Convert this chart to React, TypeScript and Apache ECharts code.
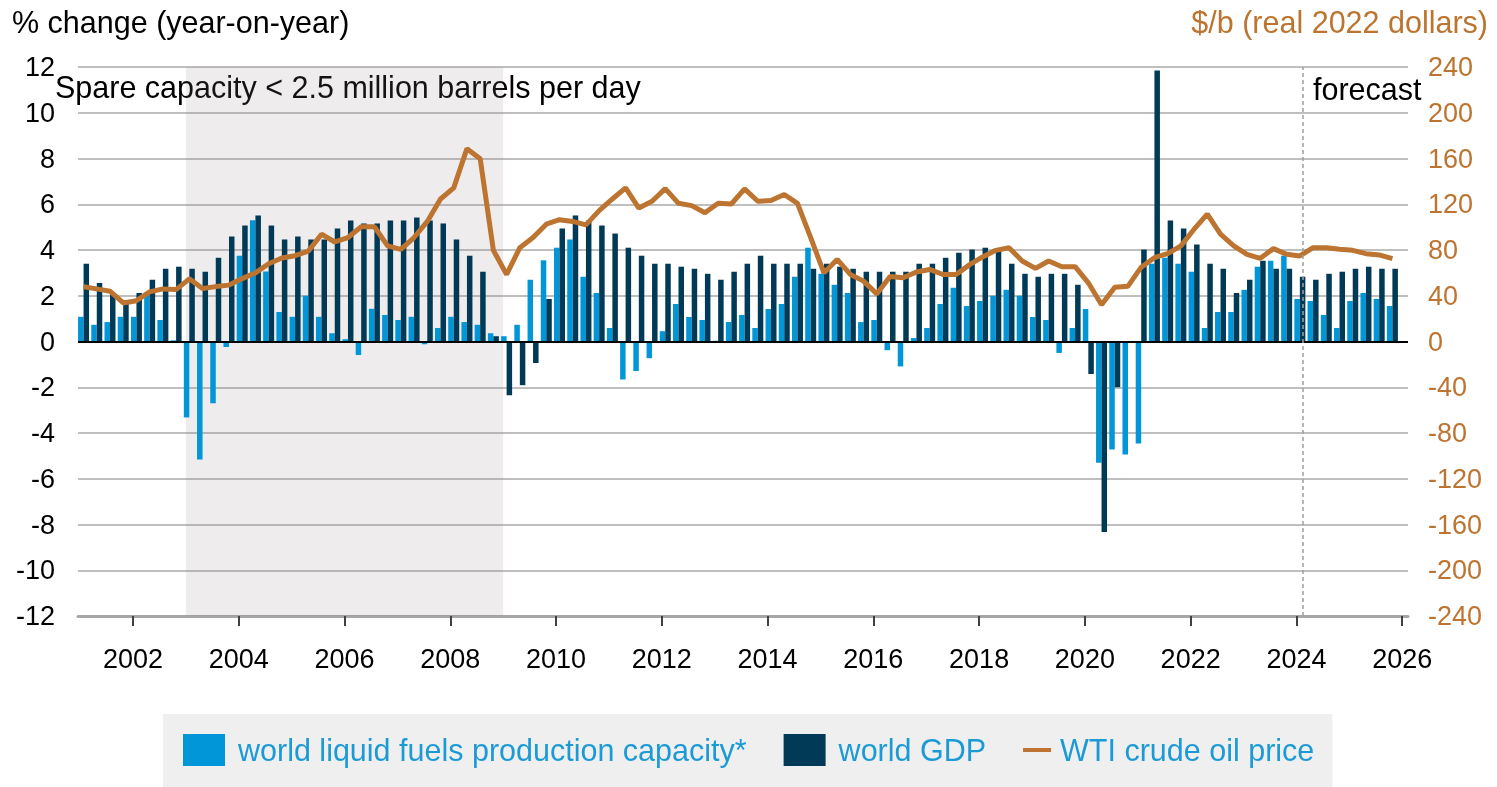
import React, { useEffect, useRef } from "react";
import * as echarts from "echarts";

// Quarterly data 2001Q1 .. 2025Q4
const startYear = 2001;
const capacity = [
  1.08, 0.73, 0.85, 1.08, 1.08, 2.02, 0.94, 0.05, -3.32, -5.16, -2.7, -0.24,
  3.75, 5.3, 3.06, 1.29, 1.08, 2.0, 1.08, 0.36, 0.1, -0.59, 1.43, 1.16,
  0.94, 1.08, -0.12, 0.59, 1.08, 0.85, 0.73, 0.36, 0.23, 0.73, 2.7, 3.55,
  4.1, 4.46, 2.83, 2.12, 0.59, -1.66, -1.29, -0.73, 0.45, 1.64, 1.07, 0.94,
  0.03, 0.85, 1.16, 0.59, 1.42, 1.64, 2.83, 4.1, 2.96, 2.48, 2.12, 0.85,
  0.94, -0.38, -1.09, 0.15, 0.59, 1.64, 2.35, 1.55, 1.77, 2.0, 2.26, 2.0,
  1.07, 0.94, -0.5, 0.59, 1.42, -5.3, -4.72, -4.94, -4.46, 3.4, 3.66, 3.4,
  3.05, 0.59, 1.29, 1.29, 2.26, 3.27, 3.53, 3.75, 1.86, 1.77, 1.16, 0.59,
  1.77, 2.12, 1.86, 1.55,
];
const gdp = [
  3.4, 2.56, 2.07, 1.8, 2.12, 2.7, 3.18, 3.27, 3.18, 3.05, 3.66, 4.59,
  5.07, 5.51, 5.07, 4.46, 4.59, 4.46, 4.46, 4.94, 5.29, 5.16, 5.16, 5.29,
  5.29, 5.42, 5.29, 5.16, 4.46, 3.75, 3.05, 0.23, -2.35, -1.91, -0.94, 1.86,
  4.94, 5.51, 5.29, 5.07, 4.72, 4.1, 3.75, 3.4, 3.4, 3.27, 3.18, 2.96,
  2.7, 3.05, 3.4, 3.75, 3.4, 3.4, 3.4, 3.18, 3.4, 3.27, 3.18, 3.05,
  3.05, 3.05, 3.05, 3.4, 3.4, 3.66, 3.88, 4.02, 4.1, 4.02, 3.4, 2.96,
  2.83, 2.96, 2.96, 2.48, -1.42, -8.33, -2.0, 0, 4.02, 11.85, 5.29, 4.94,
  4.24, 3.4, 3.18, 2.12, 2.7, 3.53, 3.18, 3.18, 2.83, 2.7, 2.96, 3.05,
  3.18, 3.27, 3.18, 3.18,
];
const wti = [
  47.8, 46, 44, 33.7, 35.7, 43.4, 46, 45.4, 54.8, 46.3, 48, 49.3,
  55, 60, 68, 73, 75, 79, 93.8, 87, 90.9, 100.3, 100.3, 83.6,
  80.6, 90.9, 105, 124.6, 134.3, 168.6, 159.8, 79.7, 58.6, 82, 90.9, 102.6,
  106.5, 105, 102, 114.4, 124.6, 134.3, 116.7, 122.6, 133.7, 120.8, 118.8, 112.6,
  120.8, 120.2, 133.4, 122.6, 123.2, 128.5, 120.8, 90.9, 60, 71.8, 58.6, 52.8,
  41.6, 56.9, 55.7, 60.7, 63, 58.6, 58.6, 67, 73.9, 79.7, 82, 70.4,
  63.9, 70.4, 65.4, 65.4, 51.3, 32.2, 47.5, 48.4, 65, 73.3, 76.8, 83.6,
  98.2, 111.4, 93.8, 83.6, 76.2, 72.7, 81.2, 76.2, 74.8, 82, 82, 80.6,
  79.7, 76.8, 75.7, 72.4,
];
const tickYears = [2002, 2004, 2006, 2008, 2010, 2012, 2014, 2016, 2018, 2020, 2022, 2024, 2026];
const shadeFrom = 2003.0;
const shadeTo = 2009.0;
const forecastAt = 2024.12;

const FONT = "'Liberation Sans', Arial, sans-serif";
const LIGHT = "#0096D7";
const DARK = "#003A56";
const ORANGE = "#BC7430";
const LEGEND_TEXT = "#1C9AD6";

export default function App() {
  const ref = useRef<HTMLDivElement>(null);
  useEffect(() => {
    if (!ref.current) return;
    const chart = echarts.init(ref.current, undefined, { renderer: "svg" });
    const xs = capacity.map((_, i) => startYear + i / 4 + 0.065);
    const option: any = {
      animation: false,
      textStyle: { fontFamily: FONT },
      grid: { left: 78, right: 89, top: 67, bottom: 171, containLabel: false },
      xAxis: {
        type: "value",
        min: 2000.96,
        max: 2026.11,
        axisLine: { onZero: false, lineStyle: { color: "#A6A6A6", width: 3 } },
        axisTick: { show: true, customValues: tickYears, length: 10, lineStyle: { color: "#404040", width: 2 } },
        axisLabel: {
          customValues: tickYears,
          fontSize: 27,
          color: "#000",
          margin: 29,
          fontFamily: FONT,
          formatter: (v: number) => String(Math.round(v)),
        },
        splitLine: { show: false },
      },
      yAxis: [
        {
          type: "value",
          min: -12,
          max: 12,
          interval: 2,
          axisLine: { show: false },
          axisTick: { show: false },
          axisLabel: { fontSize: 27, color: "#000", margin: 23, fontFamily: FONT },
          splitLine: { lineStyle: { color: "#BFBFBF", width: 2 } },
        },
        {
          type: "value",
          min: -240,
          max: 240,
          interval: 40,
          position: "right",
          axisLine: { show: false },
          axisTick: { show: false },
          axisLabel: { fontSize: 27, color: ORANGE, margin: 20, fontFamily: FONT },
          splitLine: { show: false },
        },
      ],
      legend: {
        left: 163,
        top: 714,
        backgroundColor: "#EFEFEF",
        padding: [20, 18, 21, 20],
        itemGap: 37,
        itemWidth: 42,
        itemHeight: 32,
        textStyle: { color: LEGEND_TEXT, fontSize: 30.5, fontFamily: FONT, padding: [0, 0, 0, 8] },
        data: [
          { name: "world liquid fuels production capacity*", icon: "rect" },
          { name: "world GDP", icon: "rect" },
          {
            name: "WTI crude oil price",
            icon: "path://M0,0 L0.01,0 Z M0,14 L28,14 L28,18 L0,18 Z M41.99,32 L42,32 Z",
            itemStyle: { color: ORANGE },
            textStyle: { padding: [0, 0, 0, -10] },
          },
        ],
      },
      series: [
        {
          name: "world liquid fuels production capacity*",
          type: "bar",
          barWidth: 5.5,
          barGap: "0%",
          itemStyle: { color: LIGHT },
          data: xs.map((x, i) => [x, capacity[i]]),
          markArea: {
            silent: true,
            itemStyle: { color: "rgba(140,128,134,0.15)" },
            data: [[{ xAxis: shadeFrom }, { xAxis: shadeTo }]],
          },
          markLine: {
            silent: true,
            symbol: ["none", "none"],
            label: { show: false },
            lineStyle: { color: "#000", width: 2, type: "solid" },
            data: [{ yAxis: 0 }],
          },
        },
        {
          name: "world GDP",
          type: "bar",
          barWidth: 5.5,
          barGap: "0%",
          itemStyle: { color: DARK },
          data: xs.map((x, i) => [x, gdp[i]]),
        },
        {
          name: "WTI crude oil price",
          type: "line",
          yAxisIndex: 1,
          symbol: "none",
          lineStyle: { color: ORANGE, width: 5 },
          itemStyle: { color: ORANGE },
          data: xs.map((x, i) => [x, wti[i]]),
          markLine: {
            silent: true,
            symbol: ["none", "none"],
            label: { show: false },
            lineStyle: { color: "#A0A0A0", width: 1.5, type: [4, 3] },
            data: [{ xAxis: forecastAt }],
          },
        },
      ],
      graphic: [
        { type: "text", left: 12, top: 6, style: { text: "% change (year-on-year)", fontSize: 30.5, fill: "#000", fontFamily: FONT } },
        { type: "text", right: 9, top: 6, style: { text: "$/b (real 2022 dollars)", fontSize: 30.5, fill: ORANGE, fontFamily: FONT } },
        { type: "text", left: 55, top: 71, style: { text: "Spare capacity < 2.5 million barrels per day", fontSize: 30.5, fill: "#000", fontFamily: FONT } },
        { type: "text", left: 1313, top: 73, style: { text: "forecast", fontSize: 30.5, fill: "#000", fontFamily: FONT } },
      ],
    };
    chart.setOption(option);
    return () => chart.dispose();
  }, []);
  return <div ref={ref} style={{ position: "fixed", left: 0, top: 0, width: "1497px", height: "787px" }} />;
}
